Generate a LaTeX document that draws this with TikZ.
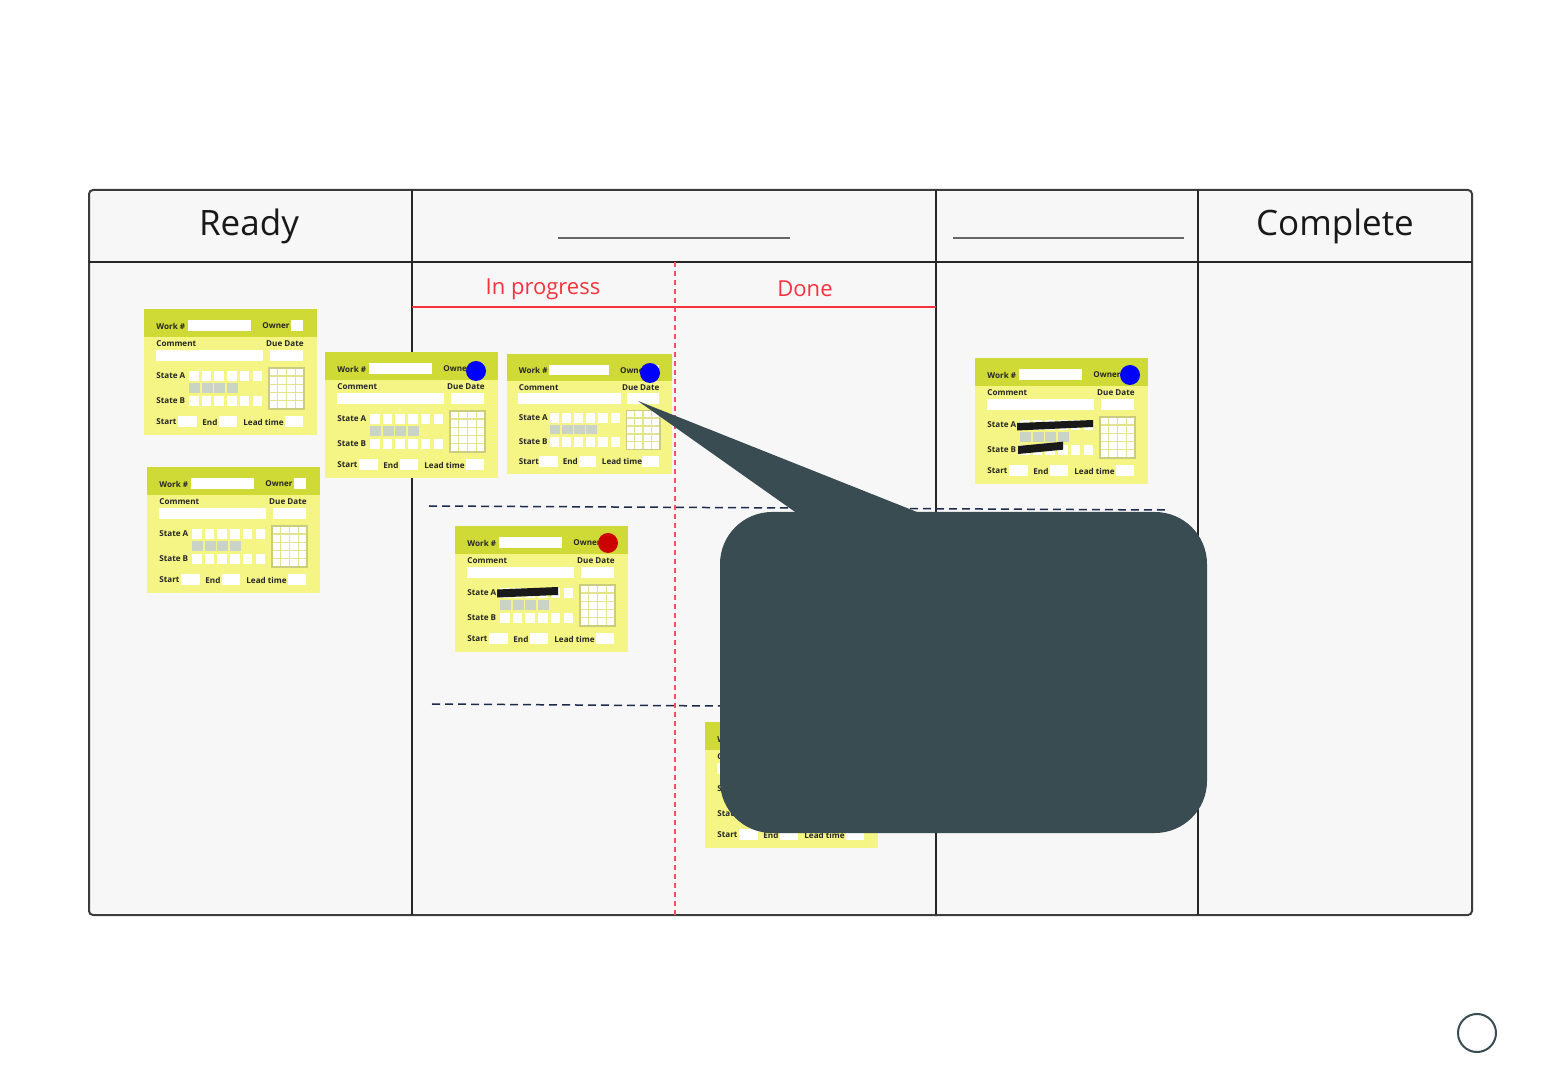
\documentclass[tikz,border=0pt]{standalone}
\usepackage{fontspec}
\setmainfont{Open Sans}
\usepackage{xcolor}
\usepackage{tikz}
\usetikzlibrary{positioning}
\definecolor{boardgray}{HTML}{F7F7F7}
\definecolor{boardline}{HTML}{3C3C3C}
\definecolor{cardhead}{HTML}{D0DA36}
\definecolor{cardbody}{HTML}{F4F584}
\definecolor{cardgrid}{HTML}{E2E38C}
\definecolor{cellgray}{HTML}{C9D3C6}
\definecolor{lanered}{HTML}{F5333F}
\definecolor{lanenavy}{HTML}{1C2B4C}
\definecolor{calloutgray}{HTML}{384C52}
\tikzstyle{cardtxt} = [font=\fontsize{4.05}{5}\selectfont\bfseries, text=black!85, inner sep=0pt]
\tikzstyle{field} = [fill=white]
\tikzstyle{colhead} = [font=\fontsize{17.5}{20}\selectfont, text=black!90]
\tikzstyle{subhead} = [font=\fontsize{11}{13}\selectfont, text=lanered]
\tikzstyle{swimlane} = [lanenavy, line width=0.75pt, dash pattern=on 4pt off 2.5pt]
\tikzstyle{dot} = [circle, minimum size=10pt, inner sep=0pt]

% one kanban card: name, top-left corner, scale
\newcommand{\kcard}[3]{%
\begin{scope}[shift={#2},scale=#3]
\fill[cardbody] (0,0) rectangle (173,126);
\fill[cardhead] (0,0) rectangle (173,28);
\node[cardtxt,anchor=west] (#1-work) at (12,17) {Work \#};
\fill[field] (44,11) rectangle (107,22);
\node[cardtxt,anchor=west] (#1-owner) at (118,17) {Owner};
\fill[field] (147,11) rectangle (159,22);
\node[cardtxt,anchor=west] (#1-comment) at (12,35) {Comment};
\fill[field] (12,41) rectangle (119,52);
\node[cardtxt,anchor=east] (#1-due) at (160,35) {Due Date};
\fill[field] (126,41) rectangle (159,52);
\node[cardtxt,anchor=west] (#1-statea) at (12,67) {State A};
\node[cardtxt,anchor=west] (#1-stateb) at (12,92) {State B};
\foreach \i in {0,...,5} {
  \fill[field] (45+12.7*\i,62) rectangle ++(9.5,10);
  \fill[field] (45+12.7*\i,87) rectangle ++(9.5,10);
}
\foreach \i in {0,...,3}
  \fill[cellgray] (45+12.7*\i,74) rectangle ++(11,10);
\fill[field] (125,59) rectangle (160,100);
\foreach \i in {1,2,3}
  \draw[cardgrid,line width=0.7pt] (125+8.75*\i,59) -- ++(0,41);
\foreach \j in {1,...,4}
  \draw[cardgrid,line width=0.7pt] (125,59+8.2*\j) -- ++(35,0);
\draw[cardgrid!90!black,line width=0.7pt] (125,59) rectangle (160,100);
\node[cardtxt,anchor=west] (#1-start) at (12,113) {Start};
\fill[field] (34,107) rectangle (53,118);
\node[cardtxt,anchor=west] (#1-end) at (58,113) {End};
\fill[field] (75,107) rectangle (93,118);
\node[cardtxt,anchor=west] (#1-lead) at (99,113) {Lead time};
\fill[field] (141,107) rectangle (159,118);
\end{scope}}

\begin{document}
\begin{tikzpicture}[x=0.5pt,y=-0.5pt]
\useasboundingbox (0,0) rectangle (1560,1080);
\fill[white] (0,0) rectangle (1560,1080);

% board
\filldraw[fill=boardgray,draw=boardline,line width=1pt,rounded corners=2pt]
  (89,190) rectangle (1472,915);
\draw[black!85,line width=0.9pt] (89,262) -- (1472,262);
\foreach \x in {412,936,1198}
  \draw[black!85,line width=1pt] (\x,190) -- (\x,915);

\node[colhead] (ready) at (249,226) {Ready};
\node[colhead] (complete) at (1335,226) {Complete};
\draw[black!60,line width=0.6pt] (558,238) -- (790,238);
\draw[black!60,line width=0.6pt] (953,238) -- (1184,238);

\node[subhead] (inprogress) at (543,289) {In progress};
\node[subhead] (done) at (805,289) {Done};
\draw[lanered,line width=1pt] (412,307) -- (936,307);
\draw[lanered!85,line width=1pt,dash pattern=on 2.5pt off 2pt] (675,262) -- (675,915);

\draw[swimlane] (429,506) -- (1165,510);
\draw[swimlane] (432,704) -- (720,706);

% cards
\kcard{c1}{(144,309)}{1}
\kcard{c2}{(147,467)}{1}
\kcard{c3}{(325,352)}{1}
\kcard{c4}{(507,354)}{0.955}
\kcard{c5}{(455,526)}{1}
\kcard{c6}{(705,722)}{1}
\kcard{c7}{(975,358)}{1}

\node[dot,fill=blue] (owner3) at (476,371) {};
\node[dot,fill=blue] (owner4) at (650,373) {};
\node[dot,fill=red!80!black] (owner5) at (608,543) {};
\node[dot,fill=blue] (owner7) at (1130,375) {};

\fill[black!90] (497,589.5) -- (558,587) -- (558,595) -- (497,597.5) -- cycle;
\fill[black!90] (1017,423) -- (1093,420) -- (1093,427) -- (1017,430.5) -- cycle;
\fill[black!90] (1018,446) -- (1063,441.7) -- (1063,449.7) -- (1018,454) -- cycle;

% callout
\fill[calloutgray] (638,401) -- (922,514) -- (798,514) -- cycle;
\fill[calloutgray,rounded corners=26pt] (720,512) rectangle (1207,833);

\node[circle,draw=calloutgray,line width=1pt,fill=white,minimum size=19pt] (zoomdot) at (1477,1033) {};
\end{tikzpicture}
\end{document}
